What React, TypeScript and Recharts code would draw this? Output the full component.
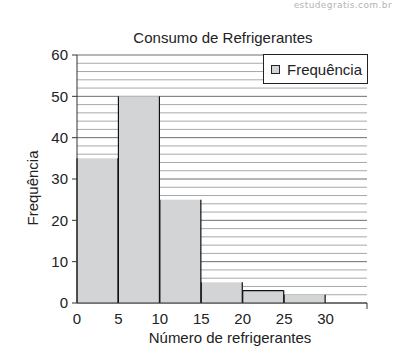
import { BarChart, Bar, XAxis, YAxis, CartesianGrid, Legend, Label } from 'recharts';

const CLASSES = ['0-5', '5-10', '10-15', '15-20', '20-25', '25-30', '30-35'];
const CLASS_START = ['0', '5', '10', '15', '20', '25', '30'];
const FREQUENCIA: Array<number | null> = [35, 50, 25, 5, 3, 2, null];
// grid every 2 units, labels only on the tens
const Y_GRID = [0, 2, 4, 6, 8, 10, 12, 14, 16, 18, 20, 22, 24, 26, 28, 30, 32, 34, 36, 38, 40, 42, 44, 46, 48, 50, 52, 54, 56, 58, 60];
const TOP_OUTLINED = ['20-25'];

const FONT = '"Liberation Sans", Arial, sans-serif';
const TEXT = '#222';
const BAR_FILL = '#d3d4d6';

const data = CLASSES.map((classe, i) => ({ classe, freq: FREQUENCIA[i] }));

function HistBar(props: any) {
  const { x, y, width, height, payload } = props;
  if (!height) return null;
  return (
    <g>
      <rect x={x} y={y} width={width} height={height} fill={BAR_FILL} />
      <line x1={x} y1={y} x2={x} y2={y + height} stroke="#111" strokeWidth={1.2} />
      <line x1={x + width} y1={y} x2={x + width} y2={y + height} stroke="#111" strokeWidth={1.2} />
      {TOP_OUTLINED.includes(payload.classe) && (
        <line x1={x} y1={y} x2={x + width} y2={y} stroke="#111" strokeWidth={1.2} />
      )}
    </g>
  );
}

// labels sit on the class boundaries, not the class centres
function XTick(props: any) {
  const { x, y, payload, index } = props;
  const half = payload.offset || 0;
  const last = index === CLASSES.length - 1;
  return (
    <g>
      <text x={x - half} y={y} dy="0.71em" textAnchor="middle" fill={TEXT} fontSize={15} fontFamily={FONT}>
        {CLASS_START[index]}
      </text>
      {last && <line x1={x + half} y1={y - 10} x2={x + half} y2={y - 4} stroke="#333" />}
    </g>
  );
}

function YTick(props: any) {
  const { x, y, payload } = props;
  if (payload.value % 10 !== 0) return null;
  return (
    <g>
      <line x1={x + 4} y1={y} x2={x + 9} y2={y} stroke="#333" />
      <text x={x} y={y} dy="0.355em" textAnchor="end" fill={TEXT} fontSize={15} fontFamily={FONT}>
        {payload.value}
      </text>
    </g>
  );
}

function GridLine(props: any) {
  const { x1, y1, x2, y2, index } = props;
  return <line x1={x1} y1={y1} x2={x2} y2={y2} stroke={index % 5 === 0 ? '#6e6e6e' : '#a8a8a8'} />;
}

function LegendBox() {
  return (
    <div
      style={{
        boxSizing: 'border-box',
        width: 105,
        height: 30,
        border: '1px solid #222',
        background: '#fff',
        display: 'flex',
        alignItems: 'center',
        paddingLeft: 7,
        fontFamily: FONT,
        fontSize: 15,
        color: TEXT,
      }}
    >
      <span
        style={{
          display: 'inline-block',
          width: 7,
          height: 7,
          border: '1px solid #222',
          background: BAR_FILL,
          marginRight: 7,
        }}
      />
      Frequência
    </div>
  );
}

export default function App() {
  return (
    <div style={{ position: 'absolute', left: 0, top: 0, width: 397, height: 355, background: '#fff' }}>
      <div
        style={{
          position: 'absolute',
          right: 5,
          top: 0,
          fontFamily: '"DejaVu Sans", sans-serif',
          fontSize: 9,
          letterSpacing: 0.4,
          color: '#b4b4b4',
        }}
      >
        estudegratis.com.br
      </div>
      <div
        style={{
          position: 'absolute',
          left: 0,
          top: 29,
          width: 446,
          textAlign: 'center',
          fontFamily: FONT,
          fontSize: 15,
          color: TEXT,
        }}
      >
        Consumo de Refrigerantes
      </div>
      <BarChart
        width={397}
        height={355}
        data={data}
        barCategoryGap={0}
        margin={{ top: 55, right: 30, bottom: 22, left: 0 }}
      >
        <CartesianGrid vertical={false} horizontal={GridLine} />
        <XAxis dataKey="classe" tick={XTick} tickLine={false} tickSize={5} tickMargin={5} height={30} stroke="#333" interval={0}>
          <Label
            content={() => (
              <text x={230} y={343} textAnchor="middle" fill={TEXT} fontSize={15} fontFamily={FONT}>
                Número de refrigerantes
              </text>
            )}
          />
        </XAxis>
        <YAxis
          type="number"
          domain={[0, 60]}
          ticks={Y_GRID}
          interval={0}
          width={77}
          tickSize={5}
          tickMargin={4}
          tickLine={false}
          stroke="#333"
          tick={YTick}
        >
          <Label
            content={() => (
              <text
                x={38}
                y={188}
                transform="rotate(-90 38 188)"
                textAnchor="middle"
                fill={TEXT}
                fontSize={15}
                fontFamily={FONT}
              >
                Frequência
              </text>
            )}
          />
        </YAxis>
        <Legend
          layout="vertical"
          align="center"
          verticalAlign="middle"
          wrapperStyle={{ top: 54, left: 263, width: 105, height: 30 }}
          content={() => <LegendBox />}
        />
        <Bar dataKey="freq" name="Frequência" shape={HistBar} isAnimationActive={false} />
      </BarChart>
    </div>
  );
}
